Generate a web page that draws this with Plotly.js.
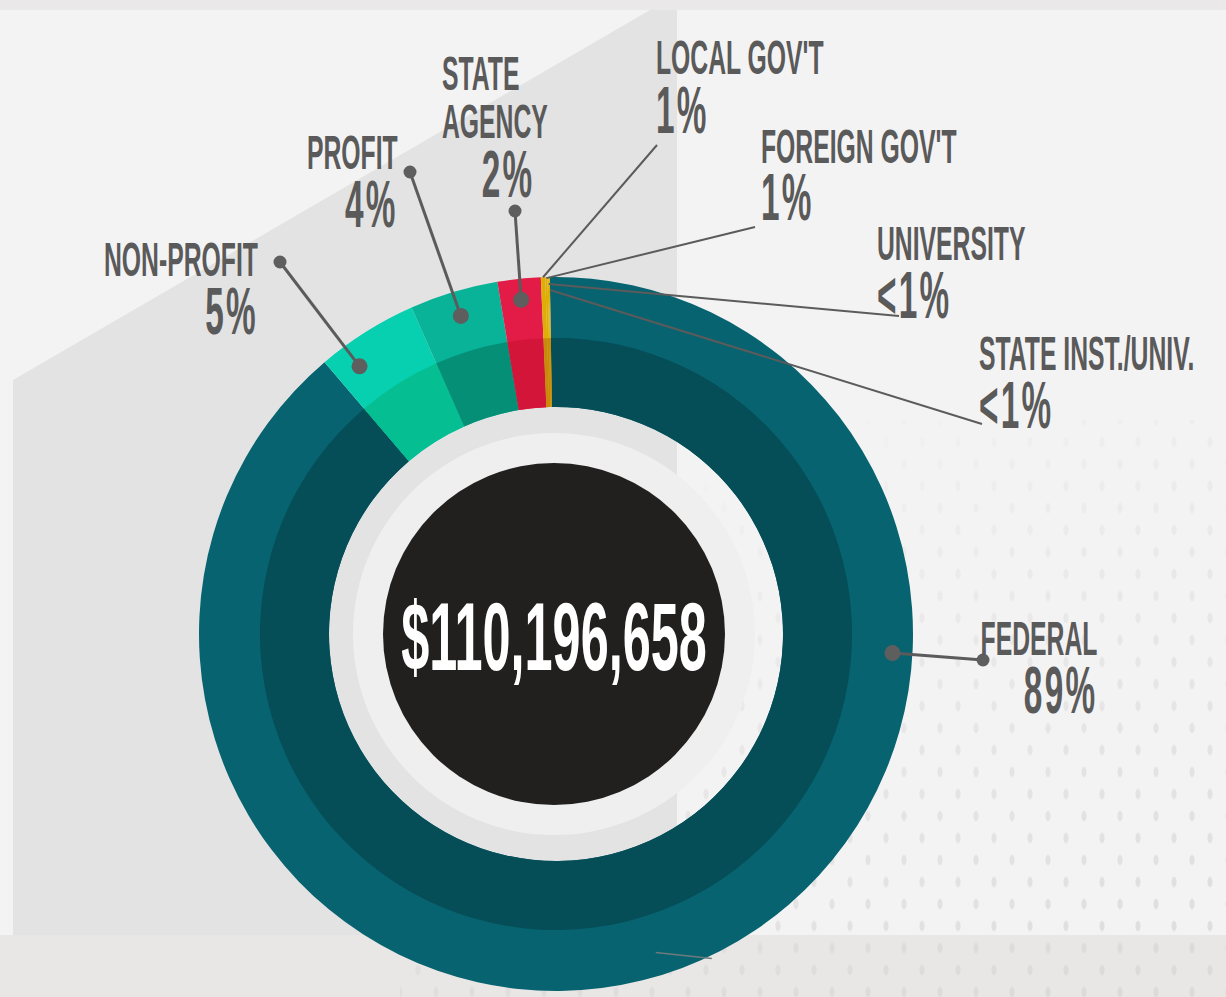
<!DOCTYPE html>
<html>
<head>
<meta charset="utf-8">
<script src="https://cdn.plot.ly/plotly-3.0.1.min.js"></script>
<style>
  html, body { margin: 0; padding: 0; }
  body { width: 1226px; height: 997px; overflow: hidden; background: #f4f3f4; position: relative; }
  .bg { position: absolute; }
  #topstrip { left: 0; top: 0; width: 1226px; height: 10px; background: #eae8e8; }
  #band { left: 0; top: 935px; width: 1226px; height: 62px; background: #e9e7e6; }
  #dots {
    left: 400px; top: 420px; width: 826px; height: 577px;
    background-image:
      radial-gradient(ellipse 3px 6px at 50% 50%, #d9d7d7 70%, rgba(217,215,215,0) 100%),
      radial-gradient(ellipse 3px 6px at 50% 50%, #d9d7d7 70%, rgba(217,215,215,0) 100%);
    background-size: 36px 44px, 36px 44px;
    background-position: 0 0, 18px 22px;
    -webkit-mask-image: linear-gradient(160deg, rgba(0,0,0,0) 15%, rgba(0,0,0,0.45) 55%, rgba(0,0,0,0.85) 100%);
    mask-image: linear-gradient(160deg, rgba(0,0,0,0) 15%, rgba(0,0,0,0.45) 55%, rgba(0,0,0,0.85) 100%);
  }
  #panel {
    left: 13px; top: 10px; width: 664px; height: 925px; background: #e4e3e3;
    clip-path: polygon(0px 370px, 637px 0px, 664px 0px, 664px 925px, 0px 925px);
  }
  #chart { position: absolute; left: 0; top: 0; width: 1226px; height: 997px; }
</style>
</head>
<body>
<div class="bg" id="topstrip"></div>
<div class="bg" id="band"></div>
<div class="bg" id="dots"></div>
<div class="bg" id="panel"></div>
<div id="chart"></div>
<script>
// ---------------- data ----------------
const categories = ["FEDERAL", "NON-PROFIT", "PROFIT", "STATE AGENCY", "LOCAL GOV'T", "FOREIGN GOV'T", "UNIVERSITY", "STATE INST./UNIV."];
const shares = [89.05, 4.6, 4.0, 1.95, 0.2, 0.1, 0.05, 0.05];
const pctLabels = ["89%", "5%", "4%", "2%", "1%", "1%", "<1%", "<1%"];
const totalFunding = "$110,196,658";

// ---------------- style ----------------
const outerColors = ["#06636f", "#07d0b1", "#08b398", "#e31b47", "#dfae04", "#dfae04", "#dfae04", "#dfae04"];
const innerColors = ["#054d57", "#05bf93", "#068f77", "#d3153a", "#c88a0b", "#c88a0b", "#c88a0b", "#c88a0b"];

const W = 1226, H = 997;
const cx = 556, cy = 634;          // donut centre in px
const ccx = 554;                   // centre of inner discs
const R1 = 357, R2 = 296, RH = 227; // outer, inner-ring, hole radii
const RLIGHT = 201, RBLACK = 171;
const ROT = -1;                    // pie rotation (deg, clockwise)
const textColor = "#5a5a5a";
const lineColor = "#5b5b5b";
const FONT = "Liberation Sans Narrow, Arial Narrow, Liberation Sans, sans-serif";
const NAME_PX = 49, PCT_PX = 66, CENTER_PX = 97;
const SCALE_X = 0.505, CENTER_SCALE_X = 0.52;
const PCT_SPACING = 4.5;

// label blocks: anchor x (px), y (px, block centre), anchor side, base font (sets line gap)
// mode "stack": name + pct in one block; "split": name block + separate pct
const labelLayout = [
  { x: 1099, y: 668.5, anchor: "right", base: 44.6, mode: "stack",
    leader: { frac: 0.294, r: 337, end: [983, 660], dots: true, width: 3 } },
  { x: 260, y: 289.5, anchor: "right", base: 44.6, mode: "stack",
    leader: { frac: 0.25, r: 332, end: [280, 262], dots: true, width: 3 } },
  { x: 400, y: 183.5, anchor: "right", base: 44.6, mode: "stack",
    leader: { frac: 0.5, r: 332, end: [410, 172], dots: true, width: 3 } },
  { x: 440, y: 97, anchor: "left", base: 36.9, mode: "split", pct: { x: 536, y: 174, anchor: "right" },
    leader: { frac: 0.5, r: 336, end: [515, 211], dots: true, width: 3 } },
  { x: 654, y: 89, anchor: "left", base: 45.5, mode: "stack",
    leader: { frac: 0.5, r: 357, end: [657, 145], dots: false, width: 2 } },
  { x: 759, y: 176.5, anchor: "left", base: 44, mode: "stack",
    leader: { frac: 0.5, r: 356, end: [755, 227], dots: false, width: 2 } },
  { x: 875, y: 273.5, anchor: "left", base: 44.6, mode: "stack",
    leader: { frac: 0.9, r: 350, end: [899, 316], dots: false, width: 2 } },
  { x: 977, y: 383.5, anchor: "left", base: 44.6, mode: "stack",
    leader: { frac: 1.0, r: 344, end: [982, 424], dots: false, width: 2 } }
];

// ---------------- helpers ----------------
const px = x => x / W;
const py = y => 1 - y / H;
function domainFor(r) {
  return { x: [px(cx - r), px(cx + r)], y: [py(cy + r), py(cy - r)] };
}
const total = shares.reduce((a, b) => a + b, 0);
const starts = [];
let acc = 0;
shares.forEach(v => { starts.push(acc); acc += v; });
function pointAt(i, frac, r) {
  const deg = (starts[i] + shares[i] * frac) / total * 360 + ROT;
  const t = deg * Math.PI / 180;
  return [cx + r * Math.sin(t), cy - r * Math.cos(t)];
}
const esc = s => s.replace(/&/g, "&amp;").replace(/</g, "&lt;").replace(/>/g, "&gt;");
const nameSpan = s => `<span style="font-size:${NAME_PX}px">${esc(s)}</span>`;
const pctSpan = s => `<span style="font-size:${PCT_PX}px;letter-spacing:${PCT_SPACING}px">${esc(s)}</span>`;

// ---------------- traces ----------------
const pieBase = {
  type: "pie", labels: categories, values: shares, sort: false,
  direction: "clockwise", rotation: ROT, textinfo: "none",
  hoverinfo: "label+percent", showlegend: false
};
const traces = [
  Object.assign({}, pieBase, { domain: domainFor(R1), hole: RH / R1,
    marker: { colors: outerColors, line: { width: 0 } } }),
  Object.assign({}, pieBase, { domain: domainFor(R2), hole: RH / R2,
    marker: { colors: innerColors, line: { width: 0 } } })
];

// ---------------- shapes ----------------
const shapes = [];
function circle(xc, yc, r, color) {
  return { type: "circle", xref: "paper", yref: "paper", xsizemode: "pixel", ysizemode: "pixel",
    xanchor: px(xc), yanchor: py(yc), x0: -r, x1: r, y0: -r, y1: r,
    fillcolor: color, line: { width: 0 }, layer: "above" };
}
shapes.push(circle(ccx, cy, RLIGHT, "#efefef"));
shapes.push(circle(ccx, cy, RBLACK, "#221f1f"));
const dotShapes = [];
labelLayout.forEach((lab, i) => {
  const L = lab.leader;
  const p = pointAt(i, L.frac, L.r);
  shapes.push({ type: "line", xref: "paper", yref: "paper",
    x0: px(p[0]), y0: py(p[1]), x1: px(L.end[0]), y1: py(L.end[1]),
    line: { color: lineColor, width: L.width }, layer: "above" });
  if (L.dots) {
    dotShapes.push(circle(p[0], p[1], 8, "#5e5e5e"));
    dotShapes.push(circle(L.end[0], L.end[1], 6.5, "#5e5e5e"));
  }
});
// faint stray leader segment near the bottom of the ring
(function () {
  const p = pointAt(0, 0.497, 346);
  shapes.push({ type: "line", xref: "paper", yref: "paper",
    x0: px(p[0] - 28), y0: py(p[1] - 3), x1: px(p[0] + 28), y1: py(p[1] + 3),
    line: { color: "#6f7a7c", width: 1.5 }, layer: "above" });
})();
dotShapes.forEach(s => shapes.push(s));

// ---------------- annotations ----------------
const annotations = [];
const annScale = [];
function addAnn(text, x, y, anchor, size, color, scale) {
  annotations.push({ xref: "paper", yref: "paper", x: px(x), y: py(y),
    xanchor: anchor, yanchor: "middle", showarrow: false, text: text, align: anchor,
    font: { family: FONT, size: size, color: color, weight: "bold" } });
  annScale.push([scale, anchor]);
}
labelLayout.forEach((lab, i) => {
  if (lab.mode === "stack") {
    addAnn(nameSpan(categories[i]) + "<br>" + pctSpan(pctLabels[i]), lab.x, lab.y, lab.anchor, lab.base, textColor, SCALE_X);
  } else {
    const words = categories[i].split(" ");
    addAnn(words.map(nameSpan).join("<br>"), lab.x, lab.y, lab.anchor, lab.base, textColor, SCALE_X);
    addAnn(pctSpan(pctLabels[i]), lab.pct.x, lab.pct.y, lab.pct.anchor, PCT_PX, textColor, SCALE_X);
  }
});
addAnn(esc(totalFunding), ccx, cy + 2, "center", CENTER_PX, "#ffffff", CENTER_SCALE_X);

const layout = {
  width: W, height: H, margin: { l: 0, r: 0, t: 0, b: 0 },
  paper_bgcolor: "rgba(0,0,0,0)", plot_bgcolor: "rgba(0,0,0,0)",
  showlegend: false, shapes: shapes, annotations: annotations
};

Plotly.newPlot("chart", traces, layout, { displayModeBar: false, staticPlot: true }).then(gd => {
  // condense annotation glyphs horizontally (condensed display face look)
  const texts = gd.querySelectorAll(".annotation .annotation-text");
  texts.forEach((t, k) => {
    if (!annScale[k]) return;
    const [s, anchor] = annScale[k];
    const bb = t.getBBox();
    let ax = bb.x;
    if (anchor === "right") ax = bb.x + bb.width;
    else if (anchor === "center") ax = bb.x + bb.width / 2;
    const prev = t.getAttribute("transform") || "";
    t.setAttribute("transform", prev + ` translate(${ax},0) scale(${s},1) translate(${-ax},0)`);
  });
});
</script>
</body>
</html>
